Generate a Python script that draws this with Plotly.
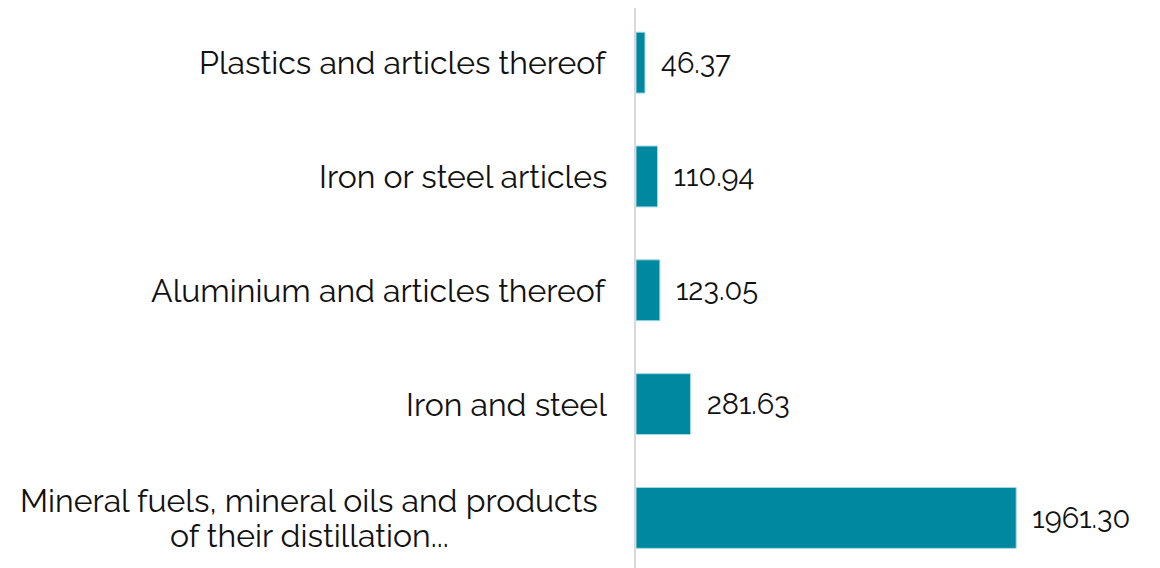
import plotly.graph_objects as go

categories = [
    "Mineral fuels, mineral oils and products<br>of their distillation...",
    "Iron and steel",
    "Aluminium and articles thereof",
    "Iron or steel articles",
    "Plastics and articles thereof",
]
values = [1961.30, 281.63, 123.05, 110.94, 46.37]

BAR = "#0088a1"
TXT = "#111111"
FONT = "Raleway, Lato, sans-serif"

fig = go.Figure()
fig.add_trace(go.Bar(
    x=values,
    y=list(range(len(categories))),
    orientation="h",
    marker=dict(color=BAR, line=dict(color="#a8d8e3", width=1)),
    width=0.535,
    text=[f"\u2009\u2005{v:.2f}" for v in values],
    textposition="outside",
    cliponaxis=False,
    textfont=dict(family=FONT, size=29, color=TXT),
    hoverinfo="skip",
))

for i, c in enumerate(categories):
    lines = c.split("<br>")
    if len(lines) == 1:
        fig.add_annotation(
            x=0, xref="paper", y=i, yref="y",
            text=c, showarrow=False,
            xanchor="right", yanchor="middle",
            xshift=-27,
            font=dict(family=FONT, size=32, color=TXT),
        )
    else:
        n = len(lines)
        for k, ln in enumerate(lines):
            fig.add_annotation(
                x=0, xref="paper", y=i, yref="y",
                text=ln, showarrow=False,
                xanchor="center", yanchor="middle",
                xshift=-327, yshift=(n - 1) / 2 * 35 - k * 35,
                font=dict(family=FONT, size=32, color=TXT),
            )

fig.update_layout(
    width=1152, height=560,
    margin=dict(l=628, r=20, t=0, b=0),
    paper_bgcolor="white", plot_bgcolor="white",
    showlegend=False,
    xaxis=dict(range=[0, 2600], showgrid=False, zeroline=False,
               showticklabels=False, showline=False, fixedrange=True),
    yaxis=dict(range=[-0.44, 4.48], showgrid=False, zeroline=False,
               showticklabels=False, showline=True, linecolor="#d9d9d9",
               linewidth=2, fixedrange=True),
)

fig.write_html("out.html")
